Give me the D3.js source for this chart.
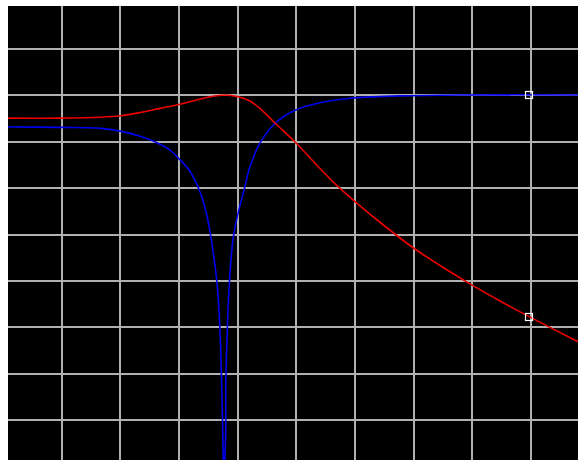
<!DOCTYPE html>
<html>
<head>
    <meta charset="UTF-8">
    <script src="https://d3js.org/d3.v7.min.js"></script>
    <style>
        body { margin: 0; background: #fff; }
        svg { display: block; }
    </style>
</head>
<body>
    <svg id="chart"></svg>
    <script>
        // grid units: x and y both run 0..9 over the grid lines
        const gridX = [1, 2, 3, 4, 5, 6, 7, 8, 9];
        const gridY = [1, 2, 3, 4, 5, 6, 7, 8, 9];

        // red curve (peak)
        const redU = [0.09, 0.97, 1.66, 2.00, 2.34, 2.68, 3.02, 3.27, 3.53, 3.79, 4.01, 4.21, 4.38, 4.64, 5.00, 5.40, 5.68, 6.02, 6.51, 7.02, 7.53, 8.01, 8.47, 9.00, 9.80];
        const redV = [2.49, 2.49, 2.47, 2.44, 2.37, 2.28, 2.19, 2.11, 2.03, 1.99, 2.03, 2.12, 2.28, 2.60, 3.03, 3.57, 3.93, 4.31, 4.82, 5.31, 5.73, 6.10, 6.43, 6.79, 7.31];

        // blue curve (notch)
        const blueU = [0.09, 0.97, 1.66, 2.00, 2.34, 2.59, 2.85, 3.02, 3.19, 3.36, 3.48, 3.56, 3.65, 3.70, 3.726, 3.743, 3.756, 3.762, 3.797, 3.800, 3.819, 3.853, 3.92, 4.01, 4.11, 4.21, 4.38, 4.64, 4.98, 5.40, 5.92, 6.77, 7.79, 9.80];
        const blueV = [2.68, 2.69, 2.71, 2.77, 2.88, 3.00, 3.18, 3.39, 3.64, 4.08, 4.61, 5.18, 6.05, 7.06, 8.13, 9.00, 9.86, 10.29, 9.25, 8.13, 7.27, 6.19, 5.12, 4.53, 4.04, 3.54, 3.03, 2.60, 2.32, 2.16, 2.06, 2.01, 1.99, 1.99];

        // markers [u, v]
        const markers = [[8.96, 1.99], [8.96, 6.78]];

        const width = 578, height = 460;
        const plot = { left: 8, top: 6 };

        const svg = d3.select("#chart")
            .attr("width", width)
            .attr("height", height);

        const x = d3.scaleLinear().domain([0, 9]).range([2.8, 2.8 + 58.7 * 9]);
        const y = d3.scaleLinear().domain([0, 9]).range([2.6, 2.6 + 46.4 * 9]);

        svg.append("defs").append("clipPath").attr("id", "clip")
            .append("rect")
            .attr("x", plot.left).attr("y", plot.top)
            .attr("width", width - plot.left).attr("height", height - plot.top);

        svg.append("rect")
            .attr("x", plot.left).attr("y", plot.top)
            .attr("width", width - plot.left).attr("height", height - plot.top)
            .attr("fill", "#000");

        const g = svg.append("g").attr("clip-path", "url(#clip)");

        // grid
        g.selectAll(".vx").data(gridX).enter().append("line")
            .attr("x1", d => Math.round(x(d))).attr("x2", d => Math.round(x(d)))
            .attr("y1", plot.top).attr("y2", height)
            .attr("stroke", "#b0b0b0").attr("stroke-width", 2)
            .attr("shape-rendering", "crispEdges");

        g.selectAll(".hy").data(gridY).enter().append("line")
            .attr("y1", d => Math.round(y(d))).attr("y2", d => Math.round(y(d)))
            .attr("x1", plot.left).attr("x2", width)
            .attr("stroke", "#b0b0b0").attr("stroke-width", 2)
            .attr("shape-rendering", "crispEdges");

        const line = d3.line()
            .x(d => x(d[0]))
            .y(d => y(d[1]))
            .curve(d3.curveCatmullRom.alpha(0.5));

        g.append("path")
            .datum(blueU.map((u, i) => [u, blueV[i]]))
            .attr("d", line)
            .attr("fill", "none")
            .attr("stroke", "#0000ee")
            .attr("stroke-width", 1.6);

        g.append("path")
            .datum(redU.map((u, i) => [u, redV[i]]))
            .attr("d", line)
            .attr("fill", "none")
            .attr("stroke", "#ee0000")
            .attr("stroke-width", 1.6);

        // small square markers
        g.selectAll(".marker").data(markers).enter().append("rect")
            .attr("x", d => Math.round(x(d[0])) - 3.5)
            .attr("y", d => Math.round(y(d[1])) - 3.5)
            .attr("width", 7).attr("height", 7)
            .attr("fill", "none")
            .attr("stroke", "#fff")
            .attr("stroke-width", 1.2);
    </script>
</body>
</html>
